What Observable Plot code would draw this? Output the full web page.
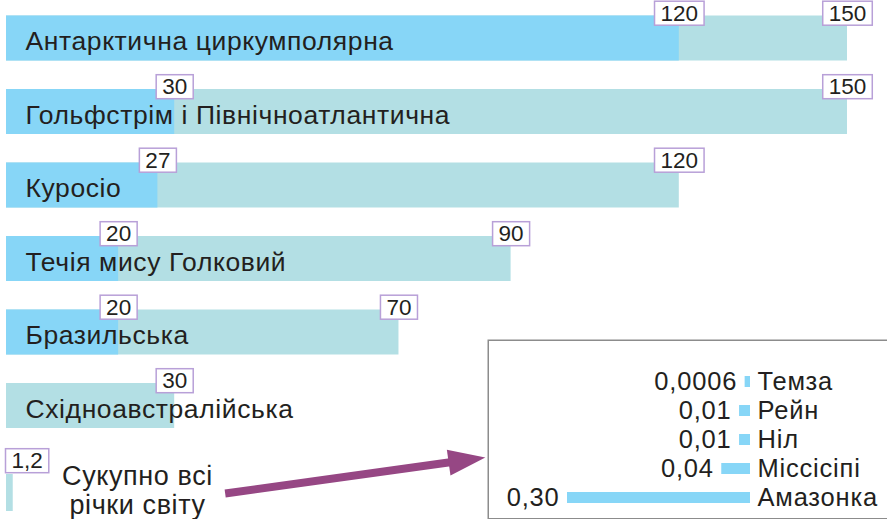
<!DOCTYPE html>
<html>
<head>
<meta charset="utf-8">
<script src="https://cdn.jsdelivr.net/npm/d3@7"></script>
<script src="https://cdn.jsdelivr.net/npm/@observablehq/plot@0.6"></script>
<style>
  html, body { margin: 0; padding: 0; background: #fff; }
  #chart { position: relative; width: 887px; height: 519px; overflow: hidden; }
  #chart svg { position: absolute; }
</style>
</head>
<body>
<div id="chart"></div>
<script>
// Ocean currents: discharge range in sverdrups (blue = lower bound, teal = upper bound)
const currents = [
  "Антарктична циркумполярна",
  "Гольфстрім і Північноатлантична",
  "Куросіо",
  "Течія мису Голковий",
  "Бразильська",
  "Східноавстралійська",
  "Сукупно всі\nрічки світу"
];
const lowFlow  = [120, 30, 27, 20, 20, null, null];
const highFlow = [150, 150, 120, 90, 70, 30, 1.2];

// Rivers shown in the inset
const rivers      = ["Темза", "Рейн", "Ніл", "Міссісіпі", "Амазонка"];
const riverFlow   = [0.0006, 0.01, 0.01, 0.04, 0.30];
const riverLabels = ["0,0006", "0,01", "0,01", "0,04", "0,30"];

// Pointer from the "all rivers" row to the inset (in chart units)
const pointer = {x1: 39, y1: 6.19, x2: 85.4, y2: 5.70};

const BLUE = "#87d6f7", TEAL = "#b3dfe4", INK = "#231f20", BOX = "#b8a0d8", ARROW = "#964784";
const FONT = "'Liberation Sans', Arial, Helvetica, sans-serif";
const fmt = v => String(v).replace(".", ",");

const table = currents.map((name, i) => ({name, row: i, low: lowFlow[i], high: highFlow[i]}));
const oceans = table.filter(d => d.row < 6);
const withLow = oceans.filter(d => d.low != null);
const total = table.filter(d => d.row === 6);
const half = 22.5; // half bar thickness, px

const main = Plot.plot({
  width: 887,
  height: 519,
  margin: 0,
  style: {fontFamily: FONT, color: INK, background: "transparent", overflow: "visible"},
  x: {domain: [0, 150], range: [6, 847], axis: null},
  y: {domain: [0, 6], range: [38, 479], axis: null},
  marks: [
    Plot.rectX(oceans, {x1: 0, x2: "high", y1: "row", y2: "row", fill: TEAL, insetTop: -half, insetBottom: -half}),
    Plot.rectX(withLow, {x1: 0, x2: "low", y1: "row", y2: "row", fill: BLUE, insetTop: -half, insetBottom: -half}),
    Plot.rectX(total, {x1: 0, x2: "high", y1: "row", y2: "row", fill: TEAL, insetTop: -5, insetBottom: -32}),
    Plot.text(oceans, {x: 0, y: "row", text: "name", textAnchor: "start", dx: 19, dy: 3.5, fontSize: 26.5, fill: INK}),
    Plot.text(total, {x: 0, y: "row", text: "name", textAnchor: "middle", lineAnchor: "middle", lineHeight: 1.05, dx: 131, dy: 11, fontSize: 27, fill: INK}),
    Plot.arrow([pointer], {x1: "x1", y1: "y1", x2: "x2", y2: "y2", stroke: ARROW, strokeWidth: 8, strokeLinecap: "butt", headLength: 0, insetEnd: 30}),
    Plot.vector([pointer], {x: "x2", y: "y2", length: 37, r: 13, rotate: 82, shape: "spike", anchor: "end", fill: ARROW, stroke: "none"}),
    Plot.text(withLow, {x: "low", y: "row", text: d => fmt(d.low), dy: -25, fontSize: 22.5, fill: INK}),
    Plot.text(oceans, {x: "high", y: "row", text: d => fmt(d.high), dy: -25, fontSize: 22.5, fill: INK}),
    Plot.text(total, {x: 0, y: "row", text: d => fmt(d.high), textAnchor: "start", dx: 5, dy: -18.5, fontSize: 22.5, fill: INK})
  ]
});
main.style.left = "0px";
main.style.top = "0px";

const riverTable = rivers.map((name, i) => ({name, flow: riverFlow[i], label: riverLabels[i]}));
const inset = Plot.plot({
  width: 405,
  height: 180,
  margin: 0,
  style: {fontFamily: FONT, color: INK, background: "#fff", overflow: "visible"},
  x: {domain: [0, 0.3], range: [263, 85], axis: null},
  y: {domain: rivers, range: [35, 165], paddingInner: 0.63, paddingOuter: 0, axis: null},
  marks: [
    Plot.frame({stroke: "#8c8c8c", strokeWidth: 1.5, inset: 0.75}),
    Plot.barX(riverTable, {x: "flow", y: "name", fill: BLUE, insetLeft: -5}),
    Plot.text(riverTable, {x: "flow", y: "name", text: "label", textAnchor: "end", dx: -13, fontSize: 25.5, fill: INK}),
    Plot.text(riverTable, {x: 0, y: "name", text: "name", textAnchor: "start", dx: 7, fontSize: 25.5, fill: INK})
  ]
});
inset.style.left = "487px";
inset.style.top = "339px";

const chart = document.getElementById("chart");
chart.append(main, inset);

// Slightly open tracking on the name labels and inset text
main.querySelectorAll("text").forEach(t => {
  if (!/^[\d,]+$/.test(t.textContent)) t.setAttribute("letter-spacing", "0.6");
});
inset.querySelectorAll("text").forEach(t => t.setAttribute("letter-spacing", "0.8"));

// Outline each value label with a small framed box
main.querySelectorAll("text").forEach(t => {
  if (!/^[\d,]+$/.test(t.textContent)) return;
  const b = t.getBBox();
  const cy = b.y + b.height / 2;
  const r = document.createElementNS("http://www.w3.org/2000/svg", "rect");
  r.setAttribute("x", b.x - 6);
  r.setAttribute("y", cy - 12);
  r.setAttribute("width", b.width + 12);
  r.setAttribute("height", 24);
  r.setAttribute("fill", "#fff");
  r.setAttribute("stroke", BOX);
  r.setAttribute("stroke-width", 1.5);
  const tr = t.getAttribute("transform");
  if (tr) r.setAttribute("transform", tr);
  t.parentNode.insertBefore(r, t);
});
</script>
</body>
</html>
